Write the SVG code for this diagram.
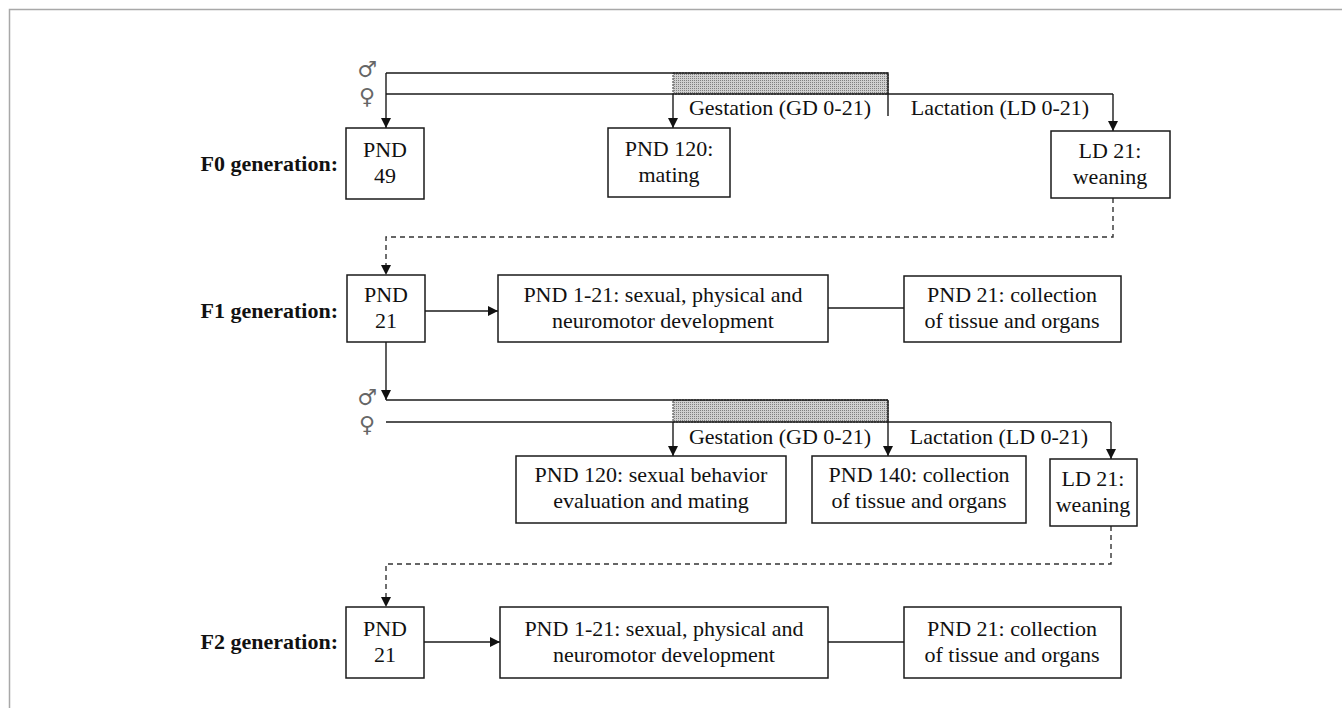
<svg xmlns="http://www.w3.org/2000/svg" width="1342" height="708" viewBox="0 0 1342 708">
<style>
  .box { fill: #fff; stroke: #1a1a1a; stroke-width: 1.5; }
  .t { font-family: "Liberation Serif", "Times New Roman", serif; font-size: 22px; fill: #111; text-anchor: middle; }
  .lbl { font-family: "Liberation Serif", "Times New Roman", serif; font-size: 22px; font-weight: bold; fill: #111; text-anchor: end; }
  .sym { font-family: "DejaVu Serif", "DejaVu Sans", serif; font-size: 22px; fill: #666; text-anchor: middle; }
  .ln { fill: none; stroke: #1a1a1a; stroke-width: 1.4; }
  .arr { fill: none; stroke: #1a1a1a; stroke-width: 1.4; marker-end: url(#ah); }
  .dash { fill: none; stroke: #333; stroke-width: 1.4; stroke-dasharray: 5 4; }
  .hatch { fill: url(#dots); stroke: #333; stroke-width: 1; stroke-dasharray: 2 1; }
</style>
<defs>
  <marker id="ah" viewBox="0 0 10 10" refX="10" refY="5" markerWidth="10" markerHeight="10" markerUnits="userSpaceOnUse" orient="auto">
    <path d="M0,0 L10,5 L0,10 z" fill="#111"/>
  </marker>
  <pattern id="dots" width="2" height="2" patternUnits="userSpaceOnUse">
    <rect width="2" height="2" fill="#d0d0d0"/>
    <rect width="1" height="1" fill="#808080"/>
  </pattern>
</defs>
<rect width="1342" height="708" fill="#fff"/>
<path d="M9.5,708 V9.5 H1342" fill="none" stroke="#a8a8a8" stroke-width="1.5"/>

<!-- labels -->
<g id="labels">
  <text class="lbl" x="338" y="171">F0 generation:</text>
  <text class="lbl" x="338" y="318">F1 generation:</text>
  <text class="lbl" x="338" y="649">F2 generation:</text>
  <text class="sym" x="367" y="77">♂</text>
  <text class="sym" x="367" y="104">♀</text>
  <text class="sym" x="367" y="405">♂</text>
  <text class="sym" x="367" y="432">♀</text>
  <text class="t" x="780" y="115">Gestation (GD 0-21)</text>
  <text class="t" x="1000" y="115">Lactation (LD 0-21)</text>
  <text class="t" x="780" y="444">Gestation (GD 0-21)</text>
  <text class="t" x="999" y="444">Lactation (LD 0-21)</text>
</g>

<!-- connectors -->
<g id="connectors">
  <!-- F0 timeline -->
  <rect class="hatch" x="673" y="73" width="215" height="21"/>
  <path class="ln" d="M386,73 H888 V116"/>
  <path class="ln" d="M386,94 H1113"/>
  <path class="arr" d="M386,73 V128"/>
  <path class="arr" d="M673,94 V128"/>
  <path class="arr" d="M1113,94 V131"/>
  <path class="dash" d="M1113,198 V237 H386 V268"/>
  <path d="M381,265 L386,275 L391,265 z" fill="#111"/>
  <!-- F1 -->
  <path class="arr" d="M425,311 H498"/>
  <path class="ln" d="M828,308 H904"/>
  <path class="arr" d="M386,342 V400"/>
  <rect class="hatch" x="673" y="400" width="215" height="22"/>
  <path class="ln" d="M386,400 H888"/>
  <path class="ln" d="M386,422 H1111"/>
  <path class="arr" d="M673,422 V456"/>
  <path class="arr" d="M888,400 V456"/>
  <path class="arr" d="M1111,422 V459"/>
  <path class="dash" d="M1111,526 V564 H386 V598"/>
  <path d="M381,597 L386,607 L391,597 z" fill="#111"/>
  <!-- F2 -->
  <path class="arr" d="M424,642 H500"/>
  <path class="ln" d="M828,642 H904"/>
</g>

<!-- F0 nodes -->
<g id="f0-pnd49">
  <rect class="box" x="346" y="128" width="78" height="71"/>
  <text class="t" x="385" y="157">PND</text>
  <text class="t" x="385" y="183">49</text>
</g>
<g id="f0-pnd120">
  <rect class="box" x="608" y="128" width="122" height="69"/>
  <text class="t" x="669" y="156">PND 120:</text>
  <text class="t" x="669" y="182">mating</text>
</g>
<g id="f0-ld21">
  <rect class="box" x="1051" y="131" width="119" height="67"/>
  <text class="t" x="1110" y="158">LD 21:</text>
  <text class="t" x="1110" y="184">weaning</text>
</g>

<!-- F1 nodes -->
<g id="f1-pnd21">
  <rect class="box" x="347" y="275" width="78" height="67"/>
  <text class="t" x="386" y="302">PND</text>
  <text class="t" x="386" y="328">21</text>
</g>
<g id="f1-dev">
  <rect class="box" x="498" y="275" width="330" height="67"/>
  <text class="t" x="663" y="302">PND 1-21: sexual, physical and</text>
  <text class="t" x="663" y="328">neuromotor development</text>
</g>
<g id="f1-collect">
  <rect class="box" x="904" y="276" width="217" height="66"/>
  <text class="t" x="1012" y="302">PND 21: collection</text>
  <text class="t" x="1012" y="328">of tissue and organs</text>
</g>
<g id="f1-pnd120">
  <rect class="box" x="516" y="456" width="270" height="67"/>
  <text class="t" x="651" y="482">PND 120: sexual behavior</text>
  <text class="t" x="651" y="508">evaluation and mating</text>
</g>
<g id="f1-pnd140">
  <rect class="box" x="812" y="456" width="214" height="67"/>
  <text class="t" x="919" y="482">PND 140: collection</text>
  <text class="t" x="919" y="508">of tissue and organs</text>
</g>
<g id="f1-ld21">
  <rect class="box" x="1050" y="459" width="87" height="67"/>
  <text class="t" x="1093" y="486">LD 21:</text>
  <text class="t" x="1093" y="512">weaning</text>
</g>

<!-- F2 nodes -->
<g id="f2-pnd21">
  <rect class="box" x="346" y="607" width="78" height="71"/>
  <text class="t" x="385" y="636">PND</text>
  <text class="t" x="385" y="662">21</text>
</g>
<g id="f2-dev">
  <rect class="box" x="500" y="607" width="328" height="71"/>
  <text class="t" x="664" y="636">PND 1-21: sexual, physical and</text>
  <text class="t" x="664" y="662">neuromotor development</text>
</g>
<g id="f2-collect">
  <rect class="box" x="904" y="607" width="217" height="71"/>
  <text class="t" x="1012" y="636">PND 21: collection</text>
  <text class="t" x="1012" y="662">of tissue and organs</text>
</g>
</svg>
